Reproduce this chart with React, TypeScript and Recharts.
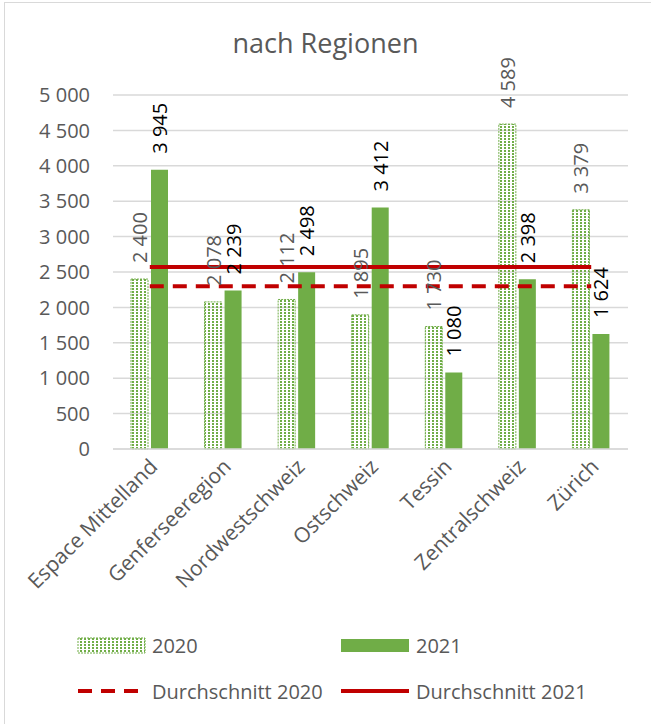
import { ComposedChart, Bar, Line, XAxis, YAxis, CartesianGrid, LabelList } from 'recharts';

const regions = ['Espace Mittelland', 'Genferseeregion', 'Nordwestschweiz', 'Ostschweiz', 'Tessin', 'Zentralschweiz', 'Zürich'];
const values2020 = [2400, 2078, 2112, 1895, 1730, 4589, 3379];
const values2021 = [3945, 2239, 2498, 3412, 1080, 2398, 1624];
// averages as drawn in the picture
const avg2020 = 2300;
const avg2021 = 2570;
const yTicks = [0, 500, 1000, 1500, 2000, 2500, 3000, 3500, 4000, 4500, 5000];

const GREEN = '#70AD47';
const RED = '#C00000';
const GRAY = '#595959';
const GRID = '#D9D9D9';
const FONT = '"Open Sans", sans-serif';

const fmt = (v: number) => String(v).replace(/\B(?=(\d{3})+(?!\d))/g, ' ');

const data = regions.map((name, i) => ({
  name,
  v2020: values2020[i],
  v2021: values2021[i],
  avg2020,
  avg2021,
}));

const makeLabel = (color: string) => (props: any) => {
  const { x, y, width, value } = props;
  const cx = x + width / 2;
  const ty = y - 16;
  return (
    <text x={cx} y={ty} transform={`rotate(-90 ${cx} ${ty})`} textAnchor="start" dominantBaseline="central"
      fill={color} fontSize={20} fontFamily={FONT}>
      {fmt(value)}
    </text>
  );
};

const XTick = (props: any) => {
  const { x, y, payload } = props;
  const tx = x + 9;
  const ty = y + 19;
  return (
    <text x={tx} y={ty} transform={`rotate(-45 ${tx} ${ty})`} textAnchor="end" fill={GRAY} fontSize={21} fontFamily={FONT}>
      {payload.value}
    </text>
  );
};

function LegendItem({ left, top, symbol, label }: { left: number; top: number; symbol: any; label: string }) {
  return (
    <div style={{ position: 'absolute', left, top, display: 'flex', alignItems: 'center', height: 30 }}>
      <svg width={70} height={20} style={{ marginRight: 6 }}>{symbol}</svg>
      <span style={{ fontFamily: FONT, fontSize: 20, color: GRAY }}>{label}</span>
    </div>
  );
}

export default function App() {
  return (
    <div style={{ position: 'absolute', left: 0, top: 0, width: 651, height: 724, overflow: 'hidden', background: '#fff' }}>
      <div style={{ position: 'absolute', left: 4, top: 2, width: 700, height: 800, borderLeft: `1px solid ${GRID}`, borderTop: `1px solid ${GRID}` }} />
      <div style={{ position: 'absolute', left: 0, top: 24, width: 651, textAlign: 'center', fontFamily: FONT, fontSize: 27, color: GRAY }}>
        nach Regionen
      </div>
      <ComposedChart width={651} height={724} data={data} margin={{ top: 95, right: 23, left: 0, bottom: 0 }}
        barGap={3} style={{ position: 'absolute', left: 0, top: 0 }}>
        <defs>
          <pattern id="dots2020" width={4} height={3} patternUnits="userSpaceOnUse">
            <rect x={0} y={0} width={2} height={2} fill={GREEN} />
          </pattern>
        </defs>
        <CartesianGrid vertical={false} stroke={GRID} strokeWidth={1.5} />
        <XAxis dataKey="name" height={275} tickSize={0} tickMargin={0} interval={0} tick={<XTick />}
          axisLine={{ stroke: GRID, strokeWidth: 1.5 }} tickLine={false} />
        <YAxis width={113} domain={[0, 5000]} ticks={yTicks} tickFormatter={fmt} axisLine={false} tickLine={false}
          tickSize={0} tickMargin={23} tick={{ fill: GRAY, fontSize: 20, fontFamily: FONT }} interval={0} />
        <Bar dataKey="v2020" barSize={17} fill="url(#dots2020)" stroke={GREEN} strokeWidth={1} strokeDasharray="2 1" isAnimationActive={false}>
          <LabelList dataKey="v2020" content={makeLabel(GRAY)} />
        </Bar>
        <Bar dataKey="v2021" barSize={17} fill={GREEN} isAnimationActive={false}>
          <LabelList dataKey="v2021" content={makeLabel('#000')} />
        </Bar>
        <Line dataKey="avg2020" stroke={RED} strokeWidth={4} strokeDasharray="14 9" dot={false} activeDot={false} isAnimationActive={false} />
        <Line dataKey="avg2021" stroke={RED} strokeWidth={4} dot={false} activeDot={false} isAnimationActive={false} />
      </ComposedChart>
      <LegendItem left={76} top={630} label="2020"
        symbol={<rect x={2} y={3} width={67} height={15} fill="url(#dots2020)" stroke={GREEN} strokeDasharray="2 1" />} />
      <LegendItem left={340} top={630} label="2021"
        symbol={<rect x={1} y={4} width={68} height={13} fill={GREEN} />} />
      <LegendItem left={76} top={676} label="Durchschnitt 2020"
        symbol={<line x1={2} y1={10} x2={68} y2={10} stroke={RED} strokeWidth={4} strokeDasharray="14 9" />} />
      <LegendItem left={340} top={676} label="Durchschnitt 2021"
        symbol={<line x1={1} y1={10} x2={69} y2={10} stroke={RED} strokeWidth={4} />} />
    </div>
  );
}
